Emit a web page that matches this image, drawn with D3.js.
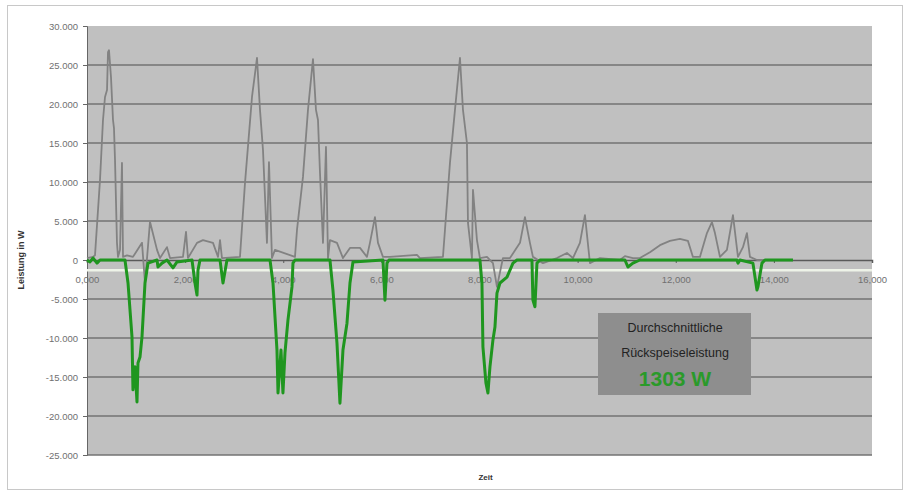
<!DOCTYPE html>
<html>
<head>
<meta charset="utf-8">
<script src="https://cdn.jsdelivr.net/npm/d3@7"></script>
<style>
  body { margin: 0; background: #fff; }
  svg { font-family: "Liberation Sans", Arial, sans-serif; }
</style>
</head>
<body>
<div id="chart"></div>
<script>
// time axis (0..16,000) and power in W
const xTicks = [0, 2000, 4000, 6000, 8000, 10000, 12000, 14000, 16000]
const xTickLabels = ["0,000", "2,000", "4,000", "6,000", "8,000", "10,000", "12,000", "14,000", "16,000"]
const yTicks = [-25000, -20000, -15000, -10000, -5000, 0, 5000, 10000, 15000, 20000, 25000, 30000]

// gray series: [time, W]
const powerSeries = [
  [0, 250], [122, 400], [163, 600], [265, 10250], [326, 17950], [367, 20900], [408, 21800],
  [428, 26650], [448, 26900], [489, 23450], [530, 17950], [550, 16900], [571, 12800],
  [611, 2200], [632, 400], [673, 1300], [713, 12450], [734, 400], [815, 600], [937, 400],
  [1121, 2200], [1182, -2950], [1284, 4900], [1427, 1300], [1488, 250], [1630, 1650], [1692, 250],
  [1956, 400], [2018, 3600], [2058, 250], [2242, 2200], [2364, 2550], [2568, 2200],
  [2670, 400], [2711, 2550], [2751, 250], [3118, 400], [3220, 9850], [3363, 20900],
  [3465, 25900], [3526, 19250], [3587, 14100], [3668, 2200], [3709, 12550], [3770, 250],
  [3831, 1300], [4239, 400], [4280, 3850], [4402, 10650], [4504, 19250], [4606, 25750],
  [4667, 19250], [4708, 17950], [4749, 11150], [4810, 2200], [4871, 14500], [4912, 250],
  [4952, 2550], [5095, 2200], [5217, 250], [5360, 1550], [5564, 1550], [5706, 400],
  [5767, 2200], [5869, 5500], [5931, 2200], [6032, 400], [6175, 400], [6725, 650],
  [6787, 250], [7255, 400], [7296, 3850], [7398, 12450], [7500, 19250], [7602, 25900],
  [7663, 19250], [7744, 15000], [7765, 4750], [7846, 250], [7867, 9000], [7948, 2550],
  [8009, 250], [8152, 400], [8274, -400], [8356, -3450], [8478, 250], [8621, 250],
  [8825, 2200], [8926, 5500], [9028, 2200], [9089, 400], [9293, -400], [9579, 250],
  [9782, 900], [9905, 250], [10047, 2200], [10149, 5750], [10251, -400], [10455, 250],
  [10862, 0], [10964, 500], [11127, 250], [11270, 250], [11474, 1000], [11678, 1900],
  [11881, 2450], [12085, 2700], [12248, 2450], [12350, 400], [12493, 400], [12636, 3450],
  [12738, 4850], [12799, 3450], [12901, 400], [13043, 1300], [13166, 5750], [13268, 400],
  [13370, 1650], [13451, 3450], [13512, 400], [13655, 0], [13981, 0], [14389, 0]
]

// green series: feed-in (negative W)
const feedInSeries = [
  [0, 0], [61, -250], [122, 250], [204, -400], [265, 0], [774, 0], [836, -2950],
  [917, -9850], [937, -16650], [978, -13700], [1019, -18200], [1039, -13200], [1080, -12450],
  [1121, -9850], [1182, -2950], [1243, -400], [1427, 0], [1447, -900], [1529, -400],
  [1630, 0], [1753, -1000], [1834, -250], [2140, 0], [2201, -2950], [2242, -4500],
  [2262, -1300], [2303, 0], [2711, 0], [2772, -2950], [2853, 0], [3730, 0], [3791, -2950],
  [3872, -11550], [3893, -17050], [3954, -11550], [3994, -17050], [4035, -11900],
  [4096, -7700], [4178, -3450], [4198, -400], [4239, 0], [4952, 0], [5013, -3850],
  [5095, -10650], [5156, -18350], [5217, -11550], [5299, -8100], [5360, -2950],
  [5421, -250], [6032, 0], [6073, -5150], [6114, -400], [6155, 0], [8009, 0],
  [8050, -2950], [8070, -11150], [8131, -15750], [8172, -17050], [8213, -13700],
  [8274, -10250], [8315, -8600], [8356, -4250], [8417, -2950], [8560, -2200], [8682, -400],
  [8763, 0], [9069, 0], [9089, -5150], [9130, -6000], [9171, -400], [9232, 0],
  [10964, 0], [11025, -900], [11127, -400], [11270, 0], [13247, 0], [13268, -400],
  [13308, 0], [13573, -400], [13655, -3850], [13675, -3450], [13757, -400], [13818, 0],
  [14389, 0]
]

const averageFeedIn = -1303
const boxLines = ["Durchschnittliche", "Rückspeiseleistung", "1303 W"]

const width = 909
const height = 497
const plot = { left: 87, right: 872, top: 26, bottom: 455 }

const de = d3.formatLocale({ decimal: ",", thousands: ".", grouping: [3], currency: ["", " €"], minus: "-" })
const yFormat = de.format(",")

const svg = d3.select("#chart").append("svg")
  .attr("width", width)
  .attr("height", height)

// outer chart border
svg.append("rect")
  .attr("x", 7.5).attr("y", 5.5)
  .attr("width", 895).attr("height", 484)
  .attr("fill", "#fff")
  .attr("stroke", "#c8c8c8")

const x = d3.scaleLinear().domain([0, 16000]).range([plot.left, plot.right])
const y = d3.scaleLinear().domain([-25000, 30000]).range([plot.bottom, plot.top])

// plot background
svg.append("rect")
  .attr("x", plot.left).attr("y", plot.top)
  .attr("width", plot.right - plot.left)
  .attr("height", plot.bottom - plot.top)
  .attr("fill", "#c0c0c0")

// gridlines
svg.append("g")
  .selectAll("line")
  .data(yTicks.filter((d) => d !== 0 && d !== 30000))
  .join("line")
  .attr("x1", plot.left).attr("x2", plot.right)
  .attr("y1", (d) => y(d)).attr("y2", (d) => y(d))
  .attr("stroke", "#737373")
  .attr("stroke-width", 1.5)

// y axis
const yAxis = svg.append("g")
  .attr("transform", `translate(${plot.left},0)`)
  .call(d3.axisLeft(y).tickValues(yTicks).tickFormat(yFormat).tickSize(4).tickPadding(5))
yAxis.select(".domain").attr("stroke", "#666")
yAxis.selectAll(".tick line").attr("stroke", "#666")
yAxis.selectAll("text").attr("fill", "#707070").attr("font-size", 9.5)

// average feed-in line (pale)
svg.append("line")
  .attr("x1", plot.left).attr("x2", plot.right)
  .attr("y1", y(averageFeedIn)).attr("y2", y(averageFeedIn))
  .attr("stroke", "#eef3e8")
  .attr("stroke-width", 2.5)

// x axis along zero
const xAxis = svg.append("g")
  .attr("transform", `translate(0,${y(0)})`)
  .call(d3.axisBottom(x).tickValues(xTicks).tickFormat((d, i) => xTickLabels[i]).tickSize(3).tickPadding(13))
xAxis.select(".domain").attr("stroke", "#5a5a5a").attr("stroke-width", 1.5)
xAxis.selectAll(".tick line").attr("stroke", "#5a5a5a")
xAxis.selectAll("text").attr("fill", "#707070").attr("font-size", 9.5)

const line = d3.line().x((d) => x(d[0])).y((d) => y(d[1]))

svg.append("path")
  .datum(powerSeries)
  .attr("d", line)
  .attr("fill", "none")
  .attr("stroke", "#828282")
  .attr("stroke-width", 1.8)
  .attr("stroke-linejoin", "round")

svg.append("path")
  .datum(feedInSeries)
  .attr("d", line)
  .attr("fill", "none")
  .attr("stroke", "#1f961f")
  .attr("stroke-width", 3)
  .attr("stroke-linejoin", "round")

// annotation box
const box = svg.append("g")
box.append("rect")
  .attr("x", 598).attr("y", 313)
  .attr("width", 153).attr("height", 82)
  .attr("fill", "#8e8e8e")
box.append("text")
  .attr("x", 675).attr("y", 332)
  .attr("text-anchor", "middle")
  .attr("font-size", 12.5)
  .attr("fill", "#222")
  .text(boxLines[0])
box.append("text")
  .attr("x", 675).attr("y", 357)
  .attr("text-anchor", "middle")
  .attr("font-size", 12.5)
  .attr("fill", "#222")
  .text(boxLines[1])
box.append("text")
  .attr("x", 675).attr("y", 386)
  .attr("text-anchor", "middle")
  .attr("font-size", 21)
  .attr("font-weight", "bold")
  .attr("fill", "#2a9a2a")
  .text(boxLines[2])

// axis titles
svg.append("text")
  .attr("transform", `translate(24,${y(0)}) rotate(-90)`)
  .attr("text-anchor", "middle")
  .attr("font-size", 9)
  .attr("font-weight", "bold")
  .attr("fill", "#333")
  .text("Leistung in W")

svg.append("text")
  .attr("x", (plot.left + plot.right) / 2 + 6).attr("y", 480)
  .attr("text-anchor", "middle")
  .attr("font-size", 8)
  .attr("font-weight", "bold")
  .attr("fill", "#333")
  .text("Zeit")
</script>
</body>
</html>
